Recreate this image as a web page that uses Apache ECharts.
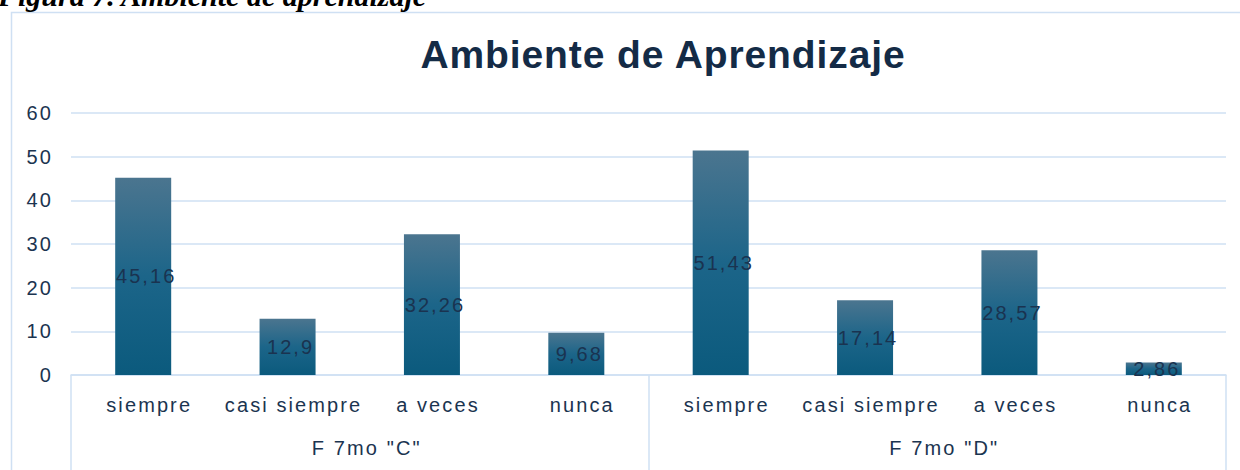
<!DOCTYPE html>
<html>
<head>
<meta charset="utf-8">
<title>Ambiente de Aprendizaje</title>
<script src="https://cdn.jsdelivr.net/npm/echarts@6/dist/echarts.min.js"></script>
<style>
  html, body { margin: 0; padding: 0; background: #fff; }
  #main { width: 1240px; height: 470px; }
  /* the original text is spaced out a bit */
  #main text { letter-spacing: 2.1px; }
  #main text[style*="39px"] { letter-spacing: 0.9px; }
  #main text[style*="30px"] { letter-spacing: 0; }
</style>
</head>
<body>
<div id="main"></div>
<script>
// data
var categories = ['siempre', 'casi siempre', 'a veces', 'nunca',
                  'siempre', 'casi siempre', 'a veces', 'nunca'];
var groups = ['F 7mo "C"', 'F 7mo "D"'];
var values = [45.16, 12.9, 32.26, 9.68, 51.43, 17.14, 28.57, 2.86];
var yTicks = [0, 60, 10]; // min, max, step

var chart = echarts.init(document.getElementById('main'), null, { renderer: 'svg' });
var lineBlue = '#cfe0f3';
var textNavy = '#1b3450';

var option = {
  backgroundColor: '#fff',
  animation: false,
  title: {
    text: 'Ambiente de Aprendizaje',
    left: 658, top: 30, textAlign: 'center',
    textStyle: { fontFamily: 'Liberation Sans', fontWeight: 'bold', fontSize: 39, color: '#142b46' }
  },
  graphic: [
    { type: 'rect', shape: { x: 11.5, y: 12.5, width: 1400, height: 600 },
      style: { fill: 'none', stroke: lineBlue, lineWidth: 1.5 }, silent: true },
    { type: 'text', left: -2, top: -20,
      style: { text: 'Figura 7. Ambiente de aprendizaje', fontFamily: 'Liberation Serif',
               fontStyle: 'italic', fontWeight: 'bold', fontSize: 30, fill: '#000' } }
  ],
  grid: { left: 71, right: 14, top: 113, bottom: 95 },
  xAxis: [
    {
      type: 'category', data: categories, position: 'bottom',
      axisLine: { lineStyle: { color: lineBlue, width: 1.5 } },
      axisTick: { show: false },
      axisLabel: { margin: 20, padding: [0, 0, 0, 12], fontFamily: 'Liberation Sans', fontSize: 20,
                   color: textNavy, interval: 0 }
    },
    {
      type: 'category', data: groups, position: 'bottom',
      axisLine: { show: false },
      axisTick: { show: true, length: 100, lineStyle: { color: lineBlue, width: 1.5 } },
      axisLabel: { margin: 63, padding: [0, 0, 0, 14], fontFamily: 'Liberation Sans', fontSize: 20, color: textNavy }
    }
  ],
  yAxis: {
    type: 'value', min: yTicks[0], max: yTicks[1], interval: yTicks[2],
    axisLine: { show: false }, axisTick: { show: false },
    axisLabel: { margin: 18, fontFamily: 'Liberation Sans', fontSize: 20, color: textNavy },
    splitLine: { lineStyle: { color: lineBlue, width: 1.5 } }
  },
  series: [{
    type: 'bar', xAxisIndex: 0, data: values, barWidth: 56,
    itemStyle: {
      color: new echarts.graphic.LinearGradient(0, 0, 0, 1, [
        { offset: 0, color: '#4b758f' },
        { offset: 0.5, color: '#1c6589' },
        { offset: 1, color: '#0b5a7d' }
      ])
    },
    label: {
      show: true, position: 'inside', padding: [0, 0, 0, 6],
      fontFamily: 'Liberation Sans', fontSize: 20, color: '#1a3350',
      formatter: function (p) { return String(p.value).replace('.', ','); }
    }
  }]
};
chart.setOption(option);
</script>
</body>
</html>
